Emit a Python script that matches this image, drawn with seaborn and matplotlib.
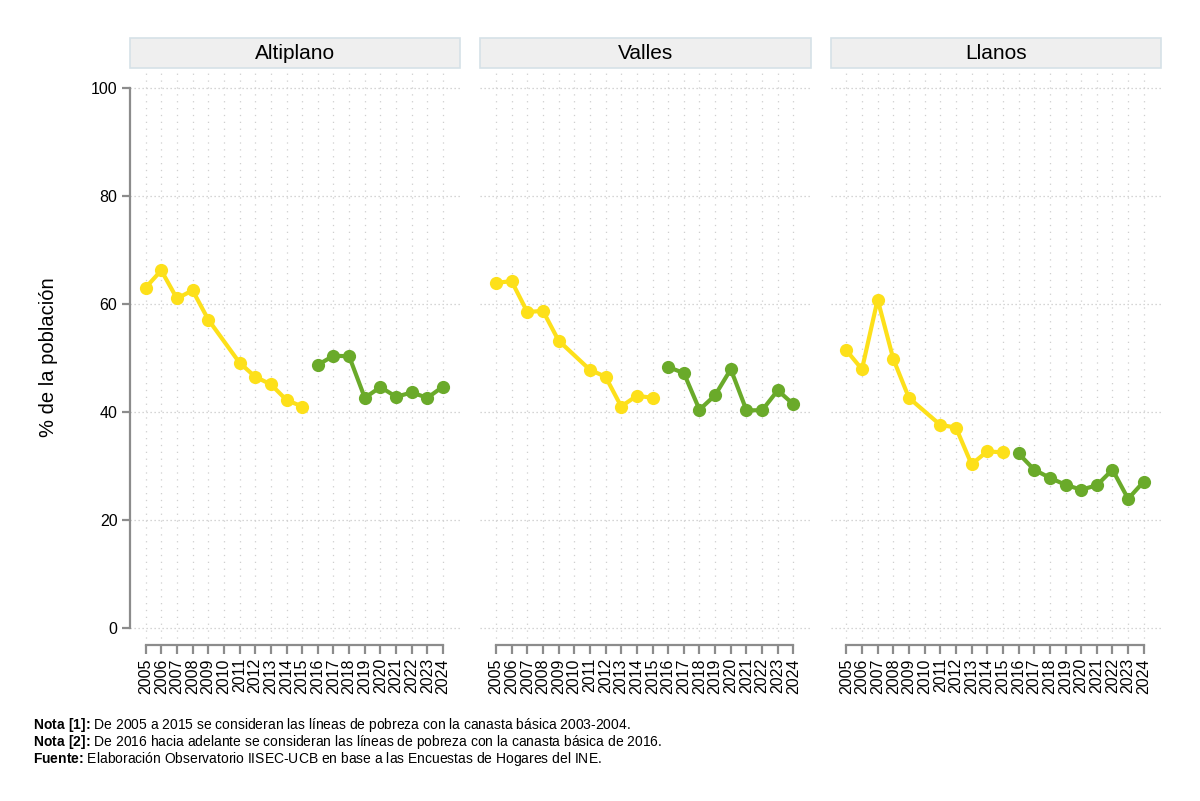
import numpy as np
import pandas as pd
import matplotlib
matplotlib.use("Agg")
import matplotlib.pyplot as plt
import seaborn as sns
from matplotlib.patches import Rectangle

# --- data ---
years = list(range(2005, 2025))
regions = ["Altiplano", "Valles", "Llanos"]
altiplano = [63.0, 66.2, 61.0, 62.5, 57.1, None, 49.1, 46.5, 45.1, 42.2, 41.0,
             48.7, 50.4, 50.3, 42.6, 44.6, 42.8, 43.6, 42.6, 44.7]
valles = [63.9, 64.2, 58.5, 58.7, 53.2, None, 47.8, 46.5, 41.0, 43.0, 42.6,
          48.3, 47.2, 40.4, 43.1, 47.9, 40.3, 40.3, 44.0, 41.4]
llanos = [51.4, 47.9, 60.8, 49.8, 42.6, None, 37.6, 37.1, 30.3, 32.7, 32.5,
          32.3, 29.3, 27.8, 26.5, 25.6, 26.4, 29.3, 23.9, 27.1]
series_names = ["Canasta 2003-2004", "Canasta 2016"]
colors = ["#FDE01A", "#6AAA2A"]

notes = [
    (r"Nota\ [1]", "De 2005 a 2015 se consideran las líneas de pobreza con la canasta básica 2003-2004."),
    (r"Nota\ [2]", "De 2016 hacia adelante se consideran las líneas de pobreza con la canasta básica de 2016."),
    (r"Fuente", "Elaboración Observatorio IISEC-UCB en base a las Encuestas de Hogares del INE."),
]

rows = []
for reg, vals in zip(regions, [altiplano, valles, llanos]):
    for yr, v in zip(years, vals):
        rows.append({"region": reg, "anio": yr, "valor": v,
                     "serie": series_names[0] if yr <= 2015 else series_names[1]})
df = pd.DataFrame(rows).dropna()

sns.set_theme(style="white")
plt.rcParams["font.family"] = "Liberation Sans"
plt.rcParams["mathtext.fontset"] = "custom"
plt.rcParams["mathtext.rm"] = "Liberation Sans"
plt.rcParams["mathtext.bf"] = "Liberation Sans:bold"
plt.rcParams["text.color"] = "black"
plt.rcParams["axes.labelcolor"] = "black"
plt.rcParams["xtick.labelcolor"] = "black"
plt.rcParams["ytick.labelcolor"] = "black"
GRAY = "#8C8C8C"

g = sns.relplot(data=df, x="anio", y="valor", col="region", col_order=regions,
                hue="serie", hue_order=series_names, palette=colors,
                kind="line", marker="o", markersize=9.5, markeredgewidth=0,
                linewidth=3, legend=False, facet_kws={"sharey": True, "sharex": True})
fig = g.figure
fig.set_size_inches(12, 8.01)
fig.subplots_adjust(left=0.1083, right=0.9675, bottom=0.1948, top=0.9126, wspace=0.0606)

for i, (ax, reg) in enumerate(zip(g.axes.flat, regions)):
    ax.set_xlim(2004.0, 2025.1)
    ax.set_ylim(-3.15, 103.3)
    ax.set_title("")
    ax.set_xlabel("")
    ax.set_ylabel("")
    ax.set_xticks(years)
    ax.set_xticklabels([str(y) for y in years], rotation=90, fontsize=11.5)
    ax.set_yticks([0, 20, 40, 60, 80, 100])
    for y in [0, 20, 40, 60, 80, 100]:
        ax.axhline(y, color="#C8C8C8", lw=0.9, ls=(0, (1, 2.2)), zorder=0)
    for x in years:
        ax.axvline(x, color="#CFCFCF", lw=0.9, ls=(0, (1, 4.5)), zorder=0)
    for s in ["top", "right"]:
        ax.spines[s].set_visible(False)
    ax.spines["bottom"].set_bounds(2005, 2024)
    ax.spines["bottom"].set_color(GRAY)
    ax.spines["bottom"].set_linewidth(1.6)
    ax.tick_params(axis="x", bottom=True, length=6.5, width=1.6, color=GRAY, pad=3)
    if i == 0:
        ax.spines["left"].set_bounds(0, 100)
        ax.spines["left"].set_color(GRAY)
        ax.spines["left"].set_linewidth(1.6)
        ax.tick_params(axis="y", left=True, length=6, width=1.6, color=GRAY,
                       labelsize=11.5, pad=3)
        ax.set_yticklabels(["0", "20", "40", "60", "80", "100"])
        ax.set_ylabel("% de la población", fontsize=14.5, labelpad=24)
    else:
        ax.spines["left"].set_visible(False)
        ax.tick_params(axis="y", left=False, labelleft=False)
    # strip header
    ax.add_patch(Rectangle((0, 1.0035), 1, 0.052, transform=ax.transAxes,
                           facecolor="#EFEFEF", edgecolor="#D6E1E7", lw=1.2,
                           clip_on=False))
    ax.text(0.5, 1.0035 + 0.026, reg, transform=ax.transAxes, ha="center",
            va="center", fontsize=15)

# footnotes: bold label (mathtext) + regular text in one string, one baseline;
# the hspace cancels the padding mathtext puts around ':'
for k, (bold, rest) in enumerate(notes):
    yb = 1 - (729.5 + k * 16.5) / 801
    label = r"$\mathbf{" + bold + r"\hspace{-0.2}:\hspace{-0.2}}$"
    fig.text(33 / 1200, yb, label + " " + rest, fontsize=10,
             ha="left", va="baseline")

fig.savefig("out.png", dpi=100)
